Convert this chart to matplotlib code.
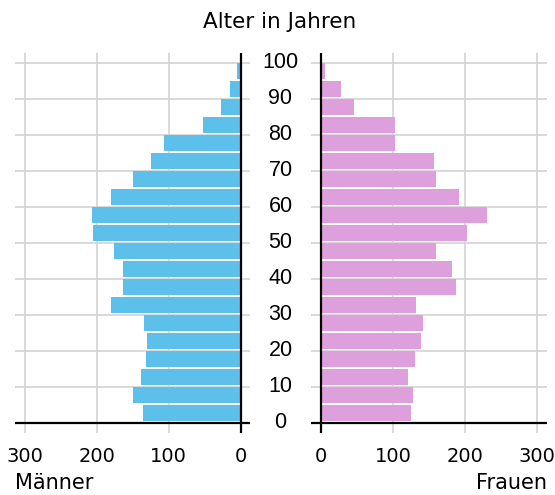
import matplotlib
matplotlib.use("Agg")
import matplotlib.pyplot as plt
import matplotlib.transforms as mtransforms

# age groups (lower bound of each 5-year class)
ages = [0, 5, 10, 15, 20, 25, 30, 35, 40, 45, 50, 55, 60, 65, 70, 75, 80, 85, 90, 95]
maenner = [136, 150, 139, 132, 130, 134, 180, 164, 164, 176, 205, 206, 180, 150, 125, 107, 52, 27, 15, 5]
frauen = [125, 128, 121, 130, 139, 141, 132, 187, 182, 160, 203, 231, 192, 160, 157, 103, 103, 46, 28, 6]
xticks = [0, 100, 200, 300]
yticks = list(range(0, 101, 10))

blue = '#5dc0ea'
pink = '#dda0dd'
grid_col = '#d3d3d3'

fig = plt.figure(figsize=(5.55, 4.95), dpi=100)
axl = fig.add_axes([15 / 555, 62.3 / 495, 235 / 555, 379.8 / 495])
axr = fig.add_axes([311 / 555, 62.3 / 495, 236 / 555, 379.8 / 495])

ypos = [a + 2.65 for a in ages]

for ax, vals, col in [(axl, maenner, blue), (axr, frauen, pink)]:
    # grid lines by hand so the bars sit on top
    for x in xticks[1:]:
        ax.axvline(x, color=grid_col, lw=1.2, zorder=1)
    for y in yticks[1:]:
        ax.axhline(y, color=grid_col, lw=1.2, zorder=1)
    ax.barh(ypos, vals, height=4.3, color=col, zorder=2)
    ax.set_ylim(-2.8, 102.7)
    ax.set_yticks([])
    ax.set_xticks(xticks)
    ax.set_xticklabels([str(t) for t in xticks], fontsize=14, family='DejaVu Sans')
    ax.tick_params(length=0, pad=10)
    for s in ax.spines.values():
        s.set_visible(False)
    ax.axvline(0, color='black', lw=1.6, zorder=3)
    ax.axhline(0, color='black', lw=1.6, zorder=3)

axl.set_xlim(313.5, -13)
axr.set_xlim(-13.5, 313.5)

# age labels in the middle
trans = mtransforms.blended_transform_factory(fig.transFigure, axl.transData)
for y in yticks:
    axl.text(280.5 / 555, y, str(y), transform=trans, ha='center', va='center',
             fontsize=15.5, family='Liberation Sans', clip_on=False)

fig.text(280 / 555, 1 - 22 / 495, 'Alter in Jahren', ha='center', va='center',
         fontsize=15.5, family='DejaVu Sans')
fig.text(15 / 555, 1 - 483 / 495, 'Männer', ha='left', va='center',
         fontsize=15, family='DejaVu Sans')
fig.text(547 / 555, 1 - 483 / 495, 'Frauen', ha='right', va='center',
         fontsize=15, family='DejaVu Sans')

fig.savefig('out.png', dpi=100)
